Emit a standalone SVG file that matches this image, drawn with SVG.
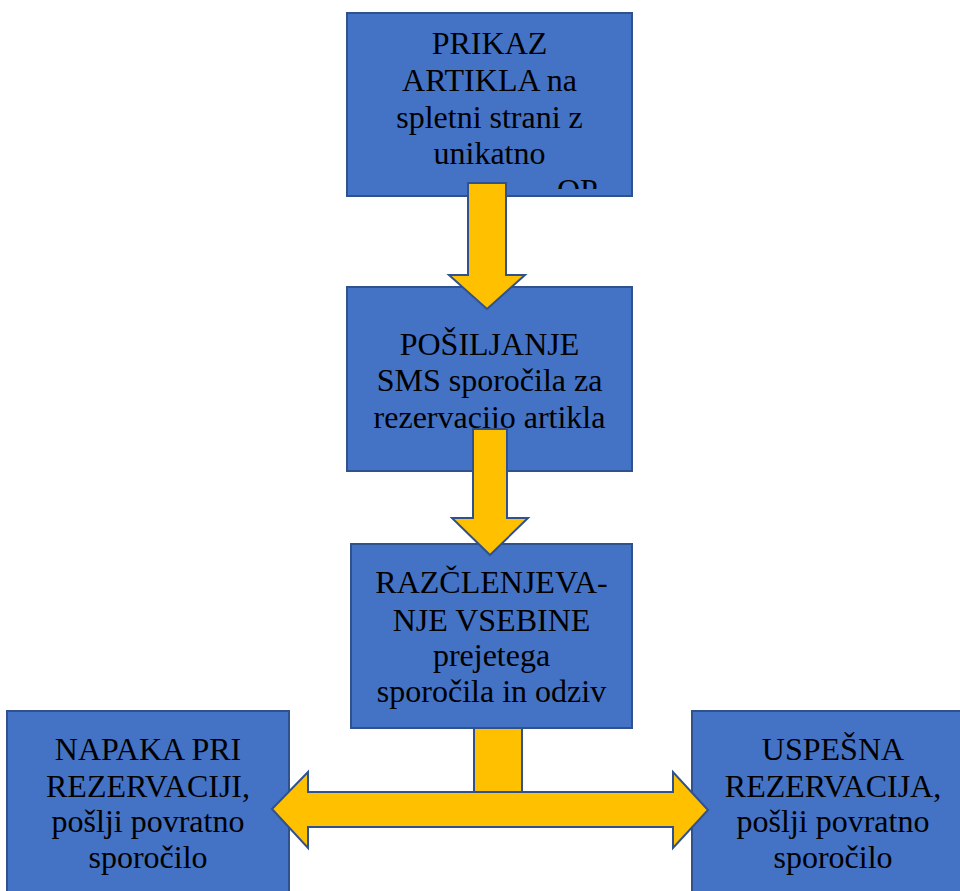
<svg xmlns="http://www.w3.org/2000/svg" width="960" height="891" viewBox="0 0 960 891">
<style>
.box{fill:#4472C4;stroke:#2F528F;stroke-width:2}
.arr{fill:#FFC000;stroke:#2F528F;stroke-width:2;stroke-linejoin:miter}
.t{font-family:"Liberation Serif","Times New Roman",serif;font-size:32px;fill:#000;text-anchor:middle}
</style>
<defs>
<clipPath id="c1"><rect x="347" y="13" width="285" height="176"/></clipPath>
</defs>
<rect width="960" height="891" fill="#fff"/>
<g id="n1">
<rect class="box" x="347" y="13" width="285" height="183"/>
<g clip-path="url(#c1)">
<text class="t" x="489.5" y="54">PRIKAZ</text>
<text class="t" x="489.5" y="91">ARTIKLA na</text>
<text class="t" x="489.5" y="128">spletni strani z</text>
<text class="t" x="489.5" y="164">unikatno</text>
<text class="t" x="557" y="201" style="text-anchor:start">OP</text>
</g>
</g>
<g id="n2">
<rect class="box" x="347" y="287" width="285" height="184"/>
<text class="t" x="489.5" y="355">POŠILJANJE</text>
<text class="t" x="489.5" y="391">SMS sporočila za</text>
<text class="t" x="489.5" y="428">rezervacijo artikla</text>
</g>
<g id="n3">
<rect class="box" x="351" y="544" width="281" height="184"/>
<text class="t" x="491.5" y="593">RAZČLENJEVA-</text>
<text class="t" x="491.5" y="631">NJE VSEBINE</text>
<text class="t" x="491.5" y="666">prejetega</text>
<text class="t" x="491.5" y="702">sporočila in odziv</text>
</g>
<g id="n4">
<rect class="box" x="7" y="711" width="282" height="190"/>
<text class="t" x="148" y="760">NAPAKA PRI</text>
<text class="t" x="148" y="797">REZERVACIJI,</text>
<text class="t" x="148" y="832">pošlji povratno</text>
<text class="t" x="148" y="868">sporočilo</text>
</g>
<g id="n5">
<rect class="box" x="692" y="711" width="282" height="190"/>
<text class="t" x="833" y="760">USPEŠNA</text>
<text class="t" x="833" y="797">REZERVACIJA,</text>
<text class="t" x="833" y="832">pošlji povratno</text>
<text class="t" x="833" y="868">sporočilo</text>
</g>
<g id="connectors">
<polygon class="arr" points="468,183 506,183 506,275 525,275 487,309 449,275 468,275"/>
<polygon class="arr" points="473,429 507,429 507,518 528,518 490,555 452,518 473,518"/>
<rect class="arr" x="474" y="728" width="48" height="64"/>
<polygon class="arr" points="272,809 308,772 308,792 673,792 673,772 708,810 673,848 673,827 308,827 308,848"/>
</g>
</svg>
